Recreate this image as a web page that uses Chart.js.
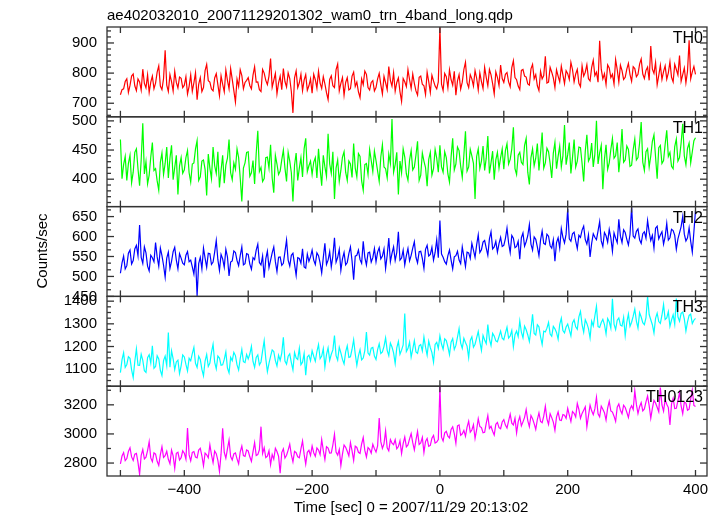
<!DOCTYPE html>
<html>
<head>
<meta charset="utf-8">
<script src="https://cdn.jsdelivr.net/npm/chart.js@4/dist/chart.umd.min.js"></script>
<style>
    html, body { margin: 0; padding: 0; background: #fff; }
    #grafico__container { width: 722px; height: 516px; }
</style>
</head>
<body>
<div id="grafico__container"><canvas id="grafico" width="722" height="516"></canvas></div>
<script>
// Datos: cuentas/seg en bins de 2.5 s, de -500 a 400 s
const tiempoInicio = -500
const pasoTiempo = 2.5

const th0 = [
    728,745, 748,772, 781,736, 759,790, 797,758, 742,781, 771,744, 813,766, 751,794, 736,770, 790,748, 767,803, 824,757, 745,782, 876,760, 739,795, 772,741, 806,769, 751,787, 783,752,
    760,788, 731,756, 794,740, 768,801, 712,763, 785,739, 752,808, 829,775, 770,747, 741,784, 798,762, 725,791, 763,738, 810,776, 748,815, 779,742, 704,780, 756,811, 792,748, 769,776,
    785,759, 748,793, 821,770, 771,745, 739,812, 800,776, 762,790, 848,753, 776,799, 731,768, 790,745, 815,772, 754,801, 782,739, 668,784, 807,752, 768,796, 742,777, 795,743, 758,781,
    733,796, 778,750, 806,767, 749,788, 764,735, 712,779, 791,758, 752,812, 830,741, 766,785, 727,769, 785,744, 748,790, 803,756, 770,738, 719,781, 762,807, 796,752, 744,769, 775,741,
    752,781, 799,762, 731,789, 768,745, 822,776, 757,801, 740,769, 784,738, 706,782, 771,755, 812,778, 749,797, 766,741, 727,786, 790,763, 758,729, 803,772, 736,793, 774,757, 748,771,
    952,763, 742,799, 788,751, 811,778, 760,806, 727,774, 795,747, 770,812, 836,768, 752,795, 781,757, 808,783, 744,801, 772,749, 819,786, 758,812, 794,765, 731,804, 786,759, 827,782,
    769,796, 802,771, 755,818, 841,785, 778,757, 745,809, 812,790, 787,764, 760,814, 829,781, 795,758, 742,806, 781,792, 856,767, 770,819, 803,784, 752,811, 790,771, 823,794, 765,808,
    798,779, 836,812, 771,797, 812,766, 755,824, 790,803, 828,781, 774,819, 843,792, 803,770, 907,813, 781,798, 762,827, 817,785, 796,764, 845,812, 770,826, 808,779, 786,813, 832,795,
    773,821, 815,788, 796,830, 847,797, 782,809, 820,776, 890,813, 799,835, 761,792, 826,779, 805,824, 780,801, 838,786, 771,829, 812,794, 858,773, 795,817, 768,806, 909,781, 804,822,
    796
]
const th1 = [
    468,401, 425,439, 398,427, 441,394, 412,446, 452,418, 389,433, 496,409, 430,392, 407,438, 463,415, 418,397, 381,429, 445,408, 427,455, 402,436, 458,399, 420,441, 374,423, 437,410,
    416,437, 449,411, 395,426, 428,452, 466,398, 404,431, 433,417, 372,443, 419,401, 455,423, 410,447, 386,415, 441,393, 424,436, 468,411, 399,428, 417,452, 437,402, 362,419, 428,446,
    447,405, 411,432, 392,444, 483,413, 420,396, 401,437, 438,419, 459,402, 377,441, 426,408, 414,433, 450,419, 396,446, 431,411, 362,424, 445,398, 419,437, 404,452, 470,413, 423,431,
    408,429, 437,402, 452,418, 389,441, 421,405, 478,426, 410,447, 366,419, 433,396, 415,438, 447,412, 398,431, 426,403, 461,419, 404,444, 439,397, 381,425, 427,408, 451,432, 413,448,
    432,414, 396,438, 459,421, 418,402, 443,427, 503,412, 425,446, 374,431, 411,452, 438,409, 398,433, 449,416, 421,441, 465,398, 407,445, 431,420, 388,434, 446,407, 418,451, 436,412,
    458,421, 412,447, 437,409, 395,438, 470,416, 426,455, 449,422, 403,441, 482,414, 421,451, 440,427, 366,439, 452,418, 431,457, 415,436, 474,410, 428,448, 399,433, 446,419, 437,452,
    417,449, 461,426, 434,452, 489,418, 408,441, 446,429, 425,458, 470,412, 391,437, 452,423, 436,461, 415,444, 480,419, 428,453, 447,427, 402,445, 463,418, 439,457, 421,440, 493,425,
    442,463, 410,437, 468,421, 431,455, 454,427, 396,448, 476,431, 437,462, 421,443, 500,426, 445,458, 383,434, 459,417, 428,451, 470,436, 440,463, 412,441, 486,429, 433,457, 451,422,
    424,451, 469,433, 437,462, 498,429, 415,447, 452,421, 440,465, 476,438, 401,454, 458,427, 432,460, 484,439, 446,422, 418,456, 469,431, 437,462, 495,440, 425,453, 462,428, 447,466,
    471
]
const th2 = [
    508,534, 551,519, 527,558, 566,531, 540,569, 578,552, 629,548, 533,574, 559,526, 514,553, 547,537, 585,549, 526,571, 552,528, 498,546, 561,520, 538,562, 573,541, 519,557, 546,533,
    529,553, 562,537, 541,524, 506,548, 451,532, 548,519, 571,546, 523,558, 557,530, 536,561, 590,542, 515,555, 544,523, 568,549, 501,536, 539,564, 560,540, 527,552, 574,529, 532,557,
    555,531, 518,547, 542,566, 581,535, 529,551, 497,544, 563,522, 540,559, 574,537, 512,548, 549,528, 533,562, 591,541, 526,553, 558,531, 503,547, 545,533, 569,524, 521,556, 538,549,
    566,541, 530,559, 552,534, 509,547, 583,530, 541,562, 524,551, 597,536, 548,568, 515,544, 560,529, 535,557, 574,539, 492,551, 553,566, 542,533, 588,548, 529,559, 561,536, 547,570,
    537,561, 572,544, 551,569, 520,553, 596,537, 558,574, 540,560, 612,541, 546,566, 529,552, 570,539, 553,571, 587,548, 534,562, 563,545, 520,568, 578,551, 555,573, 541,560, 592,547,
    640,556, 548,537, 531,552, 566,541, 519,549, 552,563, 541,532, 574,550, 525,561, 559,545, 583,566, 548,579, 604,560, 567,586, 590,571, 553,594, 612,569, 574,588, 561,582, 598,575,
    578,595, 621,584, 560,603, 596,572, 575,588, 543,597, 609,576, 587,602, 630,581, 566,599, 593,574, 552,591, 614,583, 580,606, 601,577, 571,592, 538,585, 597,571, 620,598, 584,606,
    669,594, 588,607, 611,589, 570,603, 598,616, 626,592, 581,604, 549,583, 607,598, 592,614, 637,589, 575,610, 602,586, 618,597, 563,609, 596,585, 643,601, 585,617, 610,593, 579,605,
    674,601, 596,613, 619,592, 583,607, 612,596, 640,611, 590,603, 571,621, 626,594, 604,612, 581,600, 633,591, 597,618, 615,603, 568,594, 609,625, 650,606, 589,597, 622,588, 561,612,
    665
]
const th3 = [
    1085,1142, 1172,1108, 1121,1155, 1148,1097, 1063,1134, 1190,1118, 1117,1166, 1139,1093, 1086,1151, 1164,1127, 1203,1104, 1112,1159, 1145,1095, 1072,1138, 1158,1116, 1262,1109, 1181,1146, 1098,1132, 1140,1081, 1115,1163,
    1154,1121, 1092,1148, 1137,1169, 1196,1126, 1108,1157, 1143,1099, 1071,1136, 1165,1112, 1127,1174, 1210,1131, 1101,1158, 1149,1117, 1119,1143, 1176,1105, 1084,1152, 1138,1174, 1160,1119, 1096,1147, 1187,1133, 1129,1165,
    1145,1167, 1201,1134, 1108,1152, 1163,1119, 1132,1181, 1226,1146, 1089,1126, 1157,1185, 1178,1138, 1114,1162, 1139,1171, 1241,1136, 1122,1157, 1168,1129, 1097,1174, 1150,1143, 1192,1120, 1131,1169, 1073,1154, 1162,1137,
    1181,1157, 1135,1178, 1209,1146, 1158,1191, 1110,1164, 1194,1139, 1166,1185, 1248,1160, 1140,1197, 1172,1143, 1123,1176, 1203,1152, 1155,1188, 1230,1167, 1117,1159, 1186,1141, 1149,1182, 1264,1171, 1162,1193, 1196,1158,
    1143,1186, 1212,1169, 1176,1201, 1238,1183, 1160,1215, 1198,1172, 1125,1194, 1222,1166, 1184,1207, 1346,1178, 1191,1219, 1153,1188, 1226,1176, 1170,1203, 1209,1181, 1242,1197, 1162,1224, 1195,1173, 1131,1209, 1218,1192,
    1247,1211, 1188,1234, 1226,1198, 1164,1219, 1235,1187, 1205,1241, 1279,1215, 1192,1236, 1218,1202, 1151,1227, 1243,1197, 1210,1238, 1266,1220, 1183,1249, 1229,1213, 1297,1232, 1204,1258, 1246,1225, 1221,1244, 1268,1237,
    1230,1259, 1285,1237, 1246,1271, 1199,1252, 1268,1244, 1313,1263, 1238,1290, 1274,1251, 1222,1276, 1342,1258, 1251,1296, 1287,1243, 1209,1268, 1264,1281, 1306,1255, 1245,1289, 1278,1262, 1232,1298, 1325,1270, 1260,1286,
    1299,1273, 1247,1304, 1318,1287, 1276,1331, 1355,1296, 1263,1318, 1302,1279, 1238,1312, 1291,1335, 1378,1288, 1284,1306, 1320,1297, 1256,1323, 1309,1281, 1410,1299, 1275,1316, 1326,1294, 1290,1328, 1248,1307, 1343,1289,
    1307,1334, 1365,1312, 1281,1349, 1330,1305, 1296,1327, 1420,1341, 1318,1296, 1260,1324, 1347,1310, 1302,1338, 1385,1319, 1326,1354, 1289,1317, 1340,1298, 1412,1331, 1311,1346, 1352,1322, 1268,1309, 1337,1343, 1301,1316,
    1324
]
const th0123 = [
    2795,2848, 2872,2817, 2831,2879, 2905,2842, 2818,2861, 2866,2804, 2722,2853, 2893,2828, 2840,2886, 2947,2835, 2809,2870, 2861,2812, 2784,2858, 2912,2839, 2850,2881, 2826,2796, 2889,2849, 2763,2867, 2874,2821, 2837,2884,
    2868,2827, 3040,2856, 2815,2873, 2879,2841, 2836,2889, 2902,2850, 2781,2868, 2857,2836, 2926,2857, 2803,2882, 2864,2819, 2742,2861, 3038,2874, 2833,2898, 2958,2845, 2821,2863, 2870,2829, 2795,2876, 2917,2851, 2846,2890,
    2883,2843, 2812,2877, 2941,2852, 2858,2891, 3050,2866, 2905,2838, 2847,2884, 2790,2859, 2826,2901, 2879,2847, 2730,2872, 2898,2835, 2854,2889, 2930,2856, 2809,2880, 2871,2843, 2836,2897, 2952,2861, 2793,2874, 2888,2852,
    2917,2871, 2846,2904, 2889,2858, 2961,2887, 2824,2912, 2903,2869, 2870,2925, 2998,2876, 2855,2893, 2782,2861, 2924,2908, 2881,2849, 2940,2883, 2818,2916, 2907,2874, 2866,2931, 2975,2887, 2842,2906, 2895,2868, 2929,2899,
    2876,2918, 3110,2947, 2901,2932, 3021,2905, 2884,2961, 2937,2926, 2960,2898, 2913,2953, 2866,2934, 2979,2911, 2925,2966, 3002,2940, 2891,2957, 3017,2928, 2938,2976, 2873,2949, 2969,2915, 2921,2971, 2990,2938, 2944,2962,
    3322,2978, 2952,3007, 3018,2985, 2973,3031, 3049,3002, 2936,3056, 3062,2991, 3001,3024, 2984,3047, 3088,3012, 3027,3063, 2969,3029, 3105,3051, 3044,3008, 3011,3072, 3127,3038, 3052,3019, 2993,3066, 3079,3043, 3036,3082,
    3098,3061, 3041,3089, 3136,3074, 3062,3108, 3007,3083, 3119,3056, 3083,3114, 3168,3092, 3050,3127, 3104,3071, 3031,3099, 3145,3086, 3077,3123, 3190,3104, 3066,3139, 3112,3081, 3024,3117, 3151,3096, 3093,3133, 3128,3107,
    3176,3129, 3085,3154, 3142,3117, 3210,3168, 3107,3141, 3163,3186, 3048,3124, 3198,3159, 3132,3172, 3251,3138, 3117,3191, 3169,3146, 3095,3177, 3224,3158, 3150,3122, 3086,3184, 3206,3163, 3139,3197, 3182,3149, 3113,3171,
    3194,3168, 3297,3203, 3140,3187, 3215,3159, 3172,3221, 3260,3194, 3108,3176, 3231,3213, 3183,3152, 3318,3199, 3157,3236, 3204,3181, 3062,3207, 3245,3174, 3176,3229, 3283,3192, 3139,3218, 3212,3163, 3170,3240, 3302,3196,
    3188
]

// Etiquetas de ticks
const ticksX = [-400, -200, 0, 200, 400]
const ticksTH0 = [700, 800, 900]
const ticksTH1 = [400, 450, 500]
const ticksTH2 = [450, 500, 550, 600, 650]
const ticksTH3 = [1100, 1200, 1300, 1400]
const ticksTH0123 = [2800, 3000, 3200]

const tiempos = th0.map((_, i) => tiempoInicio + i * pasoTiempo)

const fuente = "'Liberation Sans', Arial, Helvetica, sans-serif"

// Paneles de arriba hacia abajo
const paneles = [
    { id: 'y0', etiqueta: 'TH0', valores: th0, ticks: ticksTH0, min: 655, max: 953, menor: 20, color: '#ff0000' },
    { id: 'y1', etiqueta: 'TH1', valores: th1, ticks: ticksTH1, min: 353, max: 507, menor: 10, color: '#00ff00' },
    { id: 'y2', etiqueta: 'TH2', valores: th2, ticks: ticksTH2, min: 450, max: 675, menor: 50 / 3, color: '#0000ff' },
    { id: 'y3', etiqueta: 'TH3', valores: th3, ticks: ticksTH3, min: 1025, max: 1421, menor: 25, color: '#00ffff' },
    { id: 'y4', etiqueta: 'TH0123', valores: th0123, ticks: ticksTH0123, min: 2711, max: 3328, menor: 100, color: '#ff00ff' }
]

function linea(ctx, x1, y1, x2, y2) {
    ctx.beginPath()
    ctx.moveTo(x1, y1)
    ctx.lineTo(x2, y2)
    ctx.stroke()
}

// Marcos, marcas hacia adentro y textos
const pluginMarcos = {
    id: 'marcos',
    afterDraw(chart) {
        const ctx = chart.ctx
        const ejeX = chart.scales.x
        ctx.save()
        ctx.strokeStyle = '#333'
        ctx.fillStyle = '#000'
        ctx.lineWidth = 1.3

        paneles.forEach(p => {
            const ejeY = chart.scales[p.id]
            const arriba = ejeY.top
            const abajo = ejeY.bottom
            ctx.strokeRect(ejeX.left, arriba, ejeX.right - ejeX.left, abajo - arriba)

            for (let k = Math.ceil(p.min / p.menor - 1e-9); k * p.menor <= p.max + 1e-9; k++) {
                const v = k * p.menor
                const y = ejeY.getPixelForValue(v)
                const esMayor = p.ticks.some(t => Math.abs(t - v) < 1e-6)
                const largo = esMayor ? 7 : 4
                linea(ctx, ejeX.left, y, ejeX.left + largo, y)
                linea(ctx, ejeX.right, y, ejeX.right - largo, y)
            }

            for (let t = -500; t <= 400; t += 100) {
                const x = ejeX.getPixelForValue(t)
                linea(ctx, x, arriba, x, arriba + 6)
                linea(ctx, x, abajo, x, abajo - 6)
            }

            ctx.font = '16px ' + fuente
            ctx.textAlign = 'right'
            ctx.textBaseline = 'alphabetic'
            ctx.fillText(p.etiqueta, ejeX.right - 4, arriba + 16)
        })

        ctx.font = '15px ' + fuente
        ctx.textAlign = 'left'
        ctx.fillText('ae402032010_20071129201302_wam0_trn_4band_long.qdp', 107, 20)

        ctx.textAlign = 'center'
        ctx.fillText('Time [sec] 0 = 2007/11/29 20:13:02', 411, 512)

        ctx.translate(47, 251)
        ctx.rotate(-Math.PI / 2)
        ctx.fillText('Counts/sec', 0, 0)
        ctx.restore()
    }
}

function crearEjeY(p) {
    return {
        type: 'linear',
        position: 'left',
        stack: 'paneles',
        stackWeight: 1,
        min: p.min,
        max: p.max,
        grid: { display: false, drawTicks: false },
        border: { display: false },
        afterBuildTicks: (eje) => { eje.ticks = p.ticks.map(v => ({ value: v })) },
        afterFit: (eje) => { eje.width = 107 },
        ticks: {
            autoSkip: false,
            padding: 10,
            color: '#000',
            font: { family: fuente, size: 15 },
            callback: (valor) => valor
        }
    }
}

// Ejes: el primero definido queda abajo
const escalas = {
    x: {
        type: 'linear',
        position: 'bottom',
        min: -521,
        max: 418,
        grid: { display: false, drawTicks: false },
        border: { display: false },
        afterBuildTicks: (eje) => { eje.ticks = ticksX.map(v => ({ value: v })) },
        afterFit: (eje) => { eje.height = 40 },
        ticks: {
            autoSkip: false,
            maxRotation: 0,
            padding: 5,
            color: '#000',
            font: { family: fuente, size: 15 },
            callback: (valor) => valor < 0 ? '\u2212' + Math.abs(valor) : '' + valor
        }
    }
}
paneles.slice().reverse().forEach(p => { escalas[p.id] = crearEjeY(p) })

const contexto = document.getElementById('grafico').getContext('2d')
const grafico = new Chart(contexto, {
    type: 'line',
    data: {
        datasets: paneles.map(p => ({
            label: p.etiqueta,
            yAxisID: p.id,
            data: p.valores.map((v, i) => ({ x: tiempos[i], y: v })),
            borderColor: p.color,
            borderWidth: 1.2,
            pointRadius: 0,
            tension: 0,
            fill: false,
            clip: 0
        }))
    },
    options: {
        responsive: false,
        animation: false,
        devicePixelRatio: 1,
        parsing: false,
        layout: { padding: { top: 27, right: 15, left: 0, bottom: 0 } },
        plugins: {
            legend: { display: false },
            title: { display: false },
            tooltip: { enabled: false }
        },
        scales: escalas
    },
    plugins: [pluginMarcos]
})
</script>
</body>
</html>
